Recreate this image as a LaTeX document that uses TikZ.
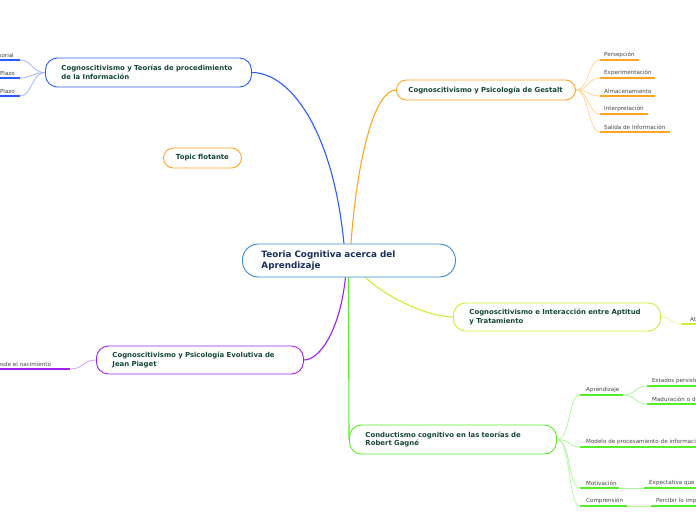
\documentclass[tikz,border=0pt]{standalone}
\usepackage{fontspec}
\setmainfont{DejaVu Sans}
\usetikzlibrary{calc}
\pgfdeclarelayer{bg}
\pgfsetlayers{bg,main}
\definecolor{cenblue}{HTML}{3B8BD5}
\definecolor{brblue}{HTML}{2B5CFF}
\definecolor{brorange}{HTML}{FFA523}
\definecolor{bryellow}{HTML}{CCEE30}
\definecolor{brpurple}{HTML}{A020F0}
\definecolor{brgreen}{HTML}{55EE2A}
\definecolor{navytext}{HTML}{1B2E5E}
\definecolor{topictext}{HTML}{15463A}
\definecolor{subtext}{HTML}{444444}
\newcommand{\cenfont}{\fontsize{8.8}{11}\selectfont\bfseries}
\newcommand{\topfont}{\fontsize{6.9}{8.8}\selectfont\bfseries}
\newcommand{\smallfont}{\fontsize{5.6}{6.5}\selectfont}
\tikzset{
  topicbox/.style={draw=#1, line width=0.9pt, fill=white, anchor=west, align=left,
    font=\topfont, text=topictext, rounded corners=12pt, inner ysep=0pt, inner xsep=16pt, text width=175pt},
  subnode/.style={anchor=south west, inner xsep=5pt, inner ysep=2.4pt, align=left,
    font=\smallfont, text=subtext},
  mainconn/.style={draw=#1, line width=1.1pt},
  subconn/.style={draw=#1!45, line width=0.8pt},
  uline/.style={draw=#1, line width=1.6pt},
}
\begin{document}
\begin{tikzpicture}[x=1pt,y=-1pt]
\useasboundingbox (0,0) rectangle (696,520);
\clip (0,0) rectangle (696,520);

% central
\node[topicbox=cenblue, font=\cenfont, text=navytext, rounded corners=16pt, minimum height=33pt,
  inner xsep=19pt, text width=175pt] (c) at (242,260.5) {\mbox{Teoria Cognitiva acerca del}\\\mbox{Aprendizaje}};

% main topics
\node[topicbox=brblue, minimum height=29pt, text width=174pt] (b) at (45,72.5)
  {\mbox{Cognoscitivismo y Teorías de procedimiento}\\\mbox{de la Información}};
\node[topicbox=brorange, minimum height=20pt, rounded corners=10pt, inner xsep=12pt, text width=155pt] (o) at (396,90)
  {\mbox{Cognoscitivismo y Psicología de Gestalt}};
\node[topicbox=brorange, minimum height=20pt, rounded corners=10pt, inner xsep=6pt, text width=66pt, align=center] (f) at (163,158)
  {Topic flotante};
\node[topicbox=bryellow, minimum height=28pt] (y) at (453,317)
  {\mbox{Cognoscitivismo e Interacción entre Aptitud}\\\mbox{y Tratamiento}};
\node[topicbox=brpurple, minimum height=28pt] (p) at (96,360)
  {\mbox{Cognoscitivismo y Psicología Evolutiva de}\\\mbox{Jean Piaget}};
\node[topicbox=brgreen, minimum height=29pt] (g) at (349,439.5)
  {\mbox{Conductismo cognitivo en las teorías de}\\\mbox{Robert Gagné}};

% blue subtopics
\node[subnode, anchor=south east, align=right, text width=60pt, inner xsep=6pt] (b1) at (20,60) {\mbox{Sensorial}};
\node[subnode, anchor=south east, align=right, text width=60pt, inner xsep=5pt] (b2) at (20,78) {\mbox{Plazo}};
\node[subnode, anchor=south east, align=right, text width=60pt, inner xsep=5pt] (b3) at (20,96) {\mbox{Plazo}};

% orange subtopics
\node[subnode, inner xsep=4pt, text width=31pt] (o1) at (600,60) {\mbox{Persepción}};
\node[subnode, inner xsep=4pt, text width=47pt] (o2) at (600,78) {\mbox{Experimentación}};
\node[subnode, inner xsep=4pt, text width=47pt] (o3) at (600,96) {\mbox{Almacenamiento}};
\node[subnode, inner xsep=4pt, text width=40pt] (o4) at (600,114) {\mbox{Interpretación}};
\node[subnode, inner xsep=4pt, text width=62pt] (o5) at (600,132) {\mbox{Salida de Información}};

% yellow subtopic
\node[subnode, inner xsep=8pt, text width=50pt] (y1) at (682,324) {\mbox{Atributos}};

% purple subtopic
\node[subnode, inner xsep=4pt, text width=72pt] (p1) at (-10,369) {\mbox{desde el nacimiento}};

% green subtopics
\node[subnode, inner xsep=6pt, text width=31pt] (g1) at (580,395) {\mbox{Aprendizaje}};
\node[subnode, text width=60pt] (g1a) at (647,386) {\mbox{Estados persistentes}};
\node[subnode, text width=60pt] (g1b) at (647,404) {\mbox{Maduración o desarrollo}};
\node[subnode, inner xsep=6pt, text width=118pt] (g2) at (580,447) {\mbox{Modelo de procesamiento de información}};
\node[subnode, inner xsep=6pt, text width=27pt] (g3) at (580,488) {\mbox{Motivación}};
\node[subnode, text width=60pt] (g3a) at (644,488) {\mbox{Expectativa que se}};
\node[subnode, inner xsep=6pt, text width=35pt] (g4) at (580,506) {\mbox{Comprensión}};
\node[subnode, text width=60pt] (g4a) at (651,506) {\mbox{Percibir lo importante}};

\begin{pgfonlayer}{bg}
% main connectors
\draw[mainconn=brblue] ([xshift=-5pt]c.north) .. controls (333,130) and (290,72.5) .. (b.east);
\draw[mainconn=brorange] ([xshift=2pt]c.north) .. controls (358,150) and (376,90) .. (o.west);
\draw[mainconn=bryellow] ([xshift=16.5pt]c.south) .. controls (390,300) and (430,317) .. (y.west);
\draw[mainconn=brpurple] ([xshift=-3.5pt]c.south) .. controls (340,330) and (320,360) .. (p.east);
\draw[mainconn=brgreen] ([xshift=-0.5pt]c.south) -- (g.west);

% blue sub
\foreach \n in {b1,b2,b3}{
  \draw[subconn=brblue] (b.west) .. controls +(-13,0) and +(12,0) .. (\n.south east);
  \draw[uline=brblue] (\n.south west) -- (\n.south east);
}
% orange sub
\foreach \n in {o1,o2,o3,o4,o5}{
  \draw[subconn=brorange] (o.east) .. controls +(13,0) and +(-12,0) .. (\n.south west);
  \draw[uline=brorange] (\n.south west) -- (\n.south east);
}
% yellow sub
\draw[subconn=bryellow] (y.east) .. controls +(12,0) and +(-12,0) .. (y1.south west);
\draw[uline=bryellow] (y1.south west) -- (y1.south east);
% purple sub
\draw[subconn=brpurple] (p.west) .. controls +(-13,0) and +(13,0) .. (p1.south east);
\draw[uline=brpurple] (p1.south west) -- (p1.south east);
% green sub
\foreach \n in {g1,g2,g3,g4}{
  \draw[subconn=brgreen] (g.east) .. controls +(14,0) and +(-12,0) .. (\n.south west);
}
\foreach \n in {g1a,g1b}{
  \draw[subconn=brgreen] (g1.south east) .. controls +(12,0) and +(-12,0) .. (\n.south west);
}
\draw[subconn=brgreen] (g3.south east) -- (g3a.south west);
\draw[subconn=brgreen] (g4.south east) -- (g4a.south west);
\foreach \n in {g1,g1a,g1b,g2,g3,g3a,g4,g4a}{
  \draw[uline=brgreen] (\n.south west) -- (\n.south east);
}
\end{pgfonlayer}
\end{tikzpicture}
\end{document}
